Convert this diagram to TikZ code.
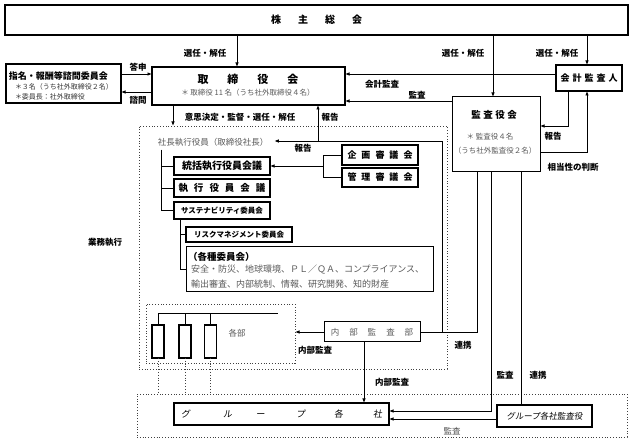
\documentclass[tikz,border=0pt]{standalone}
\usepackage{fontspec}
\setmainfont{Noto Sans CJK JP}
\newfontfamily\jpslant[FakeSlant=0.15]{Noto Sans CJK JP}
\usetikzlibrary{arrows.meta}
\begin{document}
\begin{tikzpicture}[x=1pt,y=-1pt,
  every node/.style={inner sep=0pt, outer sep=0pt},
  thickbox/.style={draw, line width=1.4pt},
  medbox/.style={draw, line width=1.1pt},
  thinbox/.style={draw, line width=0.8pt},
  dotbox/.style={draw=black!75, dotted, line width=0.8pt},
  conn/.style={line width=0.9pt},
  arr/.style={conn, -{Latex[length=4.5pt,width=3.5pt]}},
  lbl/.style={font=\fontsize{8.5}{10}\selectfont\bfseries},
  gtxt/.style={text=black!65},
]
\useasboundingbox (0,0) rectangle (640,443);

% helper coordinates
\coordinate (x161) at (161,150);
\coordinate (x173) at (173,0);
\coordinate (x180) at (180,0);
\coordinate (x237) at (237,0);
\coordinate (x318) at (318,0);
\coordinate (x364) at (364,0);
\coordinate (x477) at (477,0);
\coordinate (x491) at (491,0);
\coordinate (x493) at (493,0);
\coordinate (x521) at (521,0);
\coordinate (x568) at (568,0);
\coordinate (x587) at (587,0);
\coordinate (y74) at (0,74);
\coordinate (y92) at (0,92);
\coordinate (y101) at (0,101);
\coordinate (y126) at (0,126);
\coordinate (y152) at (0,152);
\coordinate (y411) at (0,411);
\coordinate (y419) at (0,419);
\coordinate (rp) at (442,141);
\coordinate (bm) at (323,166);
\coordinate (hl) at (278,313);

% boxes
\node[thickbox, minimum width=623pt, minimum height=30pt] (kabu) at (316.5,20)
  {\fontsize{10}{12}\selectfont\bfseries 株\hspace{17pt}主\hspace{17pt}総\hspace{17pt}会};

\node[thickbox, minimum width=193pt, minimum height=38pt] (tori) at (248.5,86) {};
\node[font=\fontsize{11}{12}\selectfont\bfseries] (toriT) at (248,79) {取\hspace{19pt}締\hspace{19pt}役\hspace{19pt}会};
\node[gtxt, font=\fontsize{7.5}{9}\selectfont] (toriS) at (248,93) {＊ 取締役 11 名（うち社外取締役４名）};

\node[thickbox, minimum width=115pt, minimum height=39pt] (shimei) at (63.5,83.5) {};
\node[anchor=west, font=\fontsize{9}{10}\selectfont\bfseries] (shimeiT) at (9,76) {指名・報酬等諮問委員会};
\node[anchor=west, text=black!80, font=\fontsize{7}{8}\selectfont] (shimeiS1) at (15,87) {＊３名（うち社外取締役２名）};
\node[anchor=west, text=black!80, font=\fontsize{7}{8}\selectfont] (shimeiS2) at (15,97) {＊委員長：社外取締役};

\node[thickbox, minimum width=66pt, minimum height=26pt, font=\fontsize{9}{10}\selectfont\bfseries] (kaikei) at (589,78)
  {会\hspace{3pt}計\hspace{3pt}監\hspace{3pt}査\hspace{3pt}人};

\node[thinbox, line width=1pt, minimum width=88pt, minimum height=75pt] (kansa) at (496,134.5) {};
\node[font=\fontsize{9.5}{11}\selectfont\bfseries] (kansaT) at (494,115) {監\hspace{2.5pt}査\hspace{2.5pt}役\hspace{2.5pt}会};
\node[gtxt, font=\fontsize{7.5}{9}\selectfont] (kansaS1) at (490,137) {＊ 監査役４名};
\node[gtxt, font=\fontsize{7.5}{9}\selectfont] (kansaS2) at (495,151) {（うち社外監査役２名）};

\node[dotbox, minimum width=308pt, minimum height=243pt] (bigdot) at (293,247.5) {};

\node[gtxt, font=\fontsize{8.5}{10}\selectfont, inner xsep=6pt, inner ysep=2pt] (shacho) at (213,142) {社長執行役員（取締役社長）};

\node[thickbox, minimum width=96pt, minimum height=18pt, font=\fontsize{10}{11}\selectfont\bfseries] (tokatsu) at (222,166) {統括執行役員会議};
\node[thickbox, minimum width=96pt, minimum height=18pt, font=\fontsize{9.5}{11}\selectfont\bfseries] (shikko) at (222,188)
  {執\hspace{6pt}行\hspace{6pt}役\hspace{6pt}員\hspace{6pt}会\hspace{6pt}議};
\node[thickbox, minimum width=96pt, minimum height=17pt, font=\fontsize{7.5}{9}\selectfont\bfseries] (sust) at (222,210.5) {サステナビリティ委員会};
\node[medbox, minimum width=106pt, minimum height=15pt, font=\fontsize{7.5}{9}\selectfont\bfseries] (risk) at (239,234.5) {リスクマネジメント委員会};
\node[thinbox, line width=1pt, minimum width=247pt, minimum height=45pt] (kakushu) at (309.5,269.5) {};
\node[anchor=west, font=\fontsize{9.5}{11}\selectfont\bfseries] (kakushuT) at (188,257) {（各種委員会）};
\node[anchor=west, gtxt, font=\fontsize{9}{10}\selectfont] (kakushuA) at (191,270) {安全・防災、地球環境、ＰＬ／ＱＡ、コンプライアンス、};
\node[anchor=west, gtxt, font=\fontsize{9}{10}\selectfont] (kakushuB) at (191,284) {輸出審査、内部統制、情報、研究開発、知的財産};

\node[thickbox, minimum width=76pt, minimum height=20pt, font=\fontsize{9}{10}\selectfont\bfseries] (kikaku) at (380,155)
  {企\hspace{5pt}画\hspace{5pt}審\hspace{5pt}議\hspace{5pt}会};
\node[thickbox, minimum width=76pt, minimum height=19pt, font=\fontsize{9}{10}\selectfont\bfseries] (kanri) at (380,177.5)
  {管\hspace{5pt}理\hspace{5pt}審\hspace{5pt}議\hspace{5pt}会};

\node[dotbox, minimum width=149pt, minimum height=59pt] (kakubu) at (220.5,333.5) {};
\node[medbox, minimum width=12pt, minimum height=33pt] (r1) at (158,341.5) {};
\node[medbox, minimum width=12pt, minimum height=33pt] (r2) at (185,341.5) {};
\node[medbox, minimum width=12pt, minimum height=33pt] (r3) at (210.5,341.5) {};
\node[gtxt, font=\fontsize{8.5}{10}\selectfont] (kakubuT) at (237,333) {各部};

\node[thinbox, line width=1pt, minimum width=96pt, minimum height=20pt, gtxt, font=\fontsize{8.5}{10}\selectfont] (naibu) at (372,332)
  {内\hspace{10pt}部\hspace{10pt}監\hspace{10pt}査\hspace{10pt}部};

\node[dotbox, minimum width=490pt, minimum height=43pt] (gdot) at (382,415.5) {};
\node[medbox, minimum width=215pt, minimum height=22pt, font=\fontsize{9}{10}\selectfont\jpslant] (groupkaku) at (281.5,414)
  {グ\hspace{33pt}ル\hspace{24pt}ー\hspace{31pt}プ\hspace{29pt}各\hspace{30pt}社};
\node[medbox, minimum width=95pt, minimum height=22pt, font=\fontsize{8.5}{10}\selectfont\jpslant] (gkansa) at (544.5,416) {グループ各社監査役};

% connectors
\draw[arr] (kabu.south -| x237) -- (tori.north -| x237);
\draw[arr] (kabu.south -| x493) -- (kansa.north -| x493);
\draw[arr] (kabu.south -| x587) -- (kaikei.north -| x587);
\draw[arr] (shimei.east |- y74) -- (tori.west |- y74);
\draw[arr] (tori.west |- y92) -- (shimei.east |- y92);
\draw[arr] (kaikei.west |- y74) -- (tori.east |- y74);
\draw[arr] (kansa.west |- y101) -- (tori.east |- y101);
\draw[arr] (kaikei.south -| x568) |- (kansa.east |- y126);
\draw[arr] (kansa.east |- y152) -| (kaikei.south -| x587);
\draw[arr] (tori.south -| x173) -- (bigdot.north -| x173);
\draw[arr] (naibu.east) -| (rp) -- (shacho.east |- rp);
\draw[arr] (rp -| x318) -- (tori.south -| x318);
\draw[conn] (x161) |- (tokatsu.west);
\draw[conn] (x161) |- (shikko.west);
\draw[conn] (x161) |- (sust.west);
\draw[conn] (sust.south -| x180) |- (risk.west);
\draw[conn] (sust.south -| x180) |- (kakushu.west);
\draw[conn] (kikaku.west) -| (bm);
\draw[conn] (kanri.west) -| (bm);
\draw[arr] (bm) -- (tokatsu.east);
\draw[conn] (r1.north |- hl) -- (hl);
\draw[conn] (r1.north) -- (r1.north |- hl);
\draw[conn] (r2.north) -- (r2.north |- hl);
\draw[conn] (r3.north) -- (r3.north |- hl);
\draw[dotbox] (r1.south) -- (r1.south |- gdot.north);
\draw[dotbox] (r2.south) -- (r2.south |- gdot.north);
\draw[dotbox] (r3.south) -- (r3.south |- gdot.north);
\draw[arr] (naibu.west) -- (kakubu.east |- naibu.west);
\draw[arr] (naibu.south -| x364) -- (groupkaku.north -| x364);
\draw[conn] (kansa.south -| x477) |- (naibu.east);
\draw[arr] (kansa.south -| x491) |- (groupkaku.east |- y411);
\draw[conn] (kansa.south -| x521) -- (gkansa.north -| x521);
\draw[arr] (gkansa.west |- y419) -- (groupkaku.east |- y419);

% labels
\node[lbl] at (205,53) {選任・解任};
\node[lbl] at (463,53) {選任・解任};
\node[lbl] at (557,53) {選任・解任};
\node[lbl] at (138,67) {答申};
\node[lbl] at (138,100) {諮問};
\node[lbl] at (382,84) {会計監査};
\node[lbl] at (417,95) {監査};
\node[lbl] at (553,136) {報告};
\node[lbl] at (573,167) {相当性の判断};
\node[lbl] at (240,117) {意思決定・監督・選任・解任};
\node[lbl] at (330,117) {報告};
\node[lbl] at (303,148) {報告};
\node[lbl] at (105,242) {業務執行};
\node[lbl] at (315,350) {内部監査};
\node[lbl] at (392,382) {内部監査};
\node[lbl] at (463,345) {連携};
\node[lbl] at (505,375) {監査};
\node[lbl] at (538,375) {連携};
\node[lbl, text=black!70, font=\fontsize{8.5}{10}\selectfont] at (452,431) {監査};
\end{tikzpicture}
\end{document}
